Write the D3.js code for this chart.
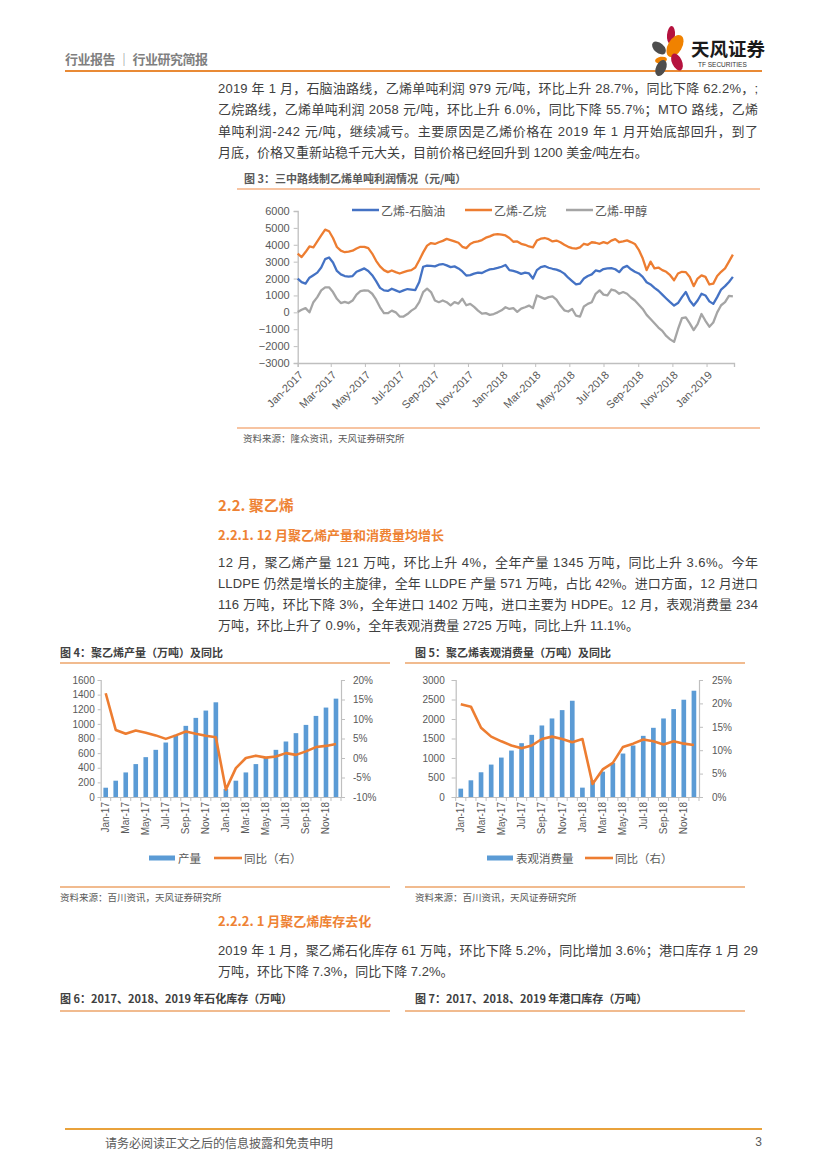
<!DOCTYPE html>
<html><head><meta charset="utf-8">
<script src="https://cdn.jsdelivr.net/npm/d3@7"></script>
<style>body{margin:0;background:#fff}svg{display:block}</style>
</head><body>
<svg id="page" width="827" height="1169"></svg>
<script>
// ---------------- DATA ----------------
// Figure 3: weekly samples from 2017-01-01 (元/吨)
const fig3Start = "2017-01-01";
const naphtha = [1990,1790,1700,2050,2200,2350,2650,3150,3250,2950,2450,2250,2150,2120,2150,2400,2500,2600,2450,2200,1850,1450,1300,1270,1400,1300,1200,1300,1380,1350,1320,1800,2700,2770,2750,2720,2820,2860,
 2780,2680,2720,2600,2420,2180,2200,2290,2350,2330,2450,2540,2580,2630,2700,2800,2500,2450,2380,2280,2350,2300,2000,2500,2680,2740,2640,2580,2530,2440,2290,2050,1850,1650,1700,2000,2150,2250,
 2480,2420,2560,2600,2620,2550,2380,2650,2750,2550,2400,2300,2100,1780,1650,1450,1280,1050,820,600,400,550,900,1200,700,400,700,1100,1000,650,500,900,1350,1550,1800,2100];
const ethane = [3470,3270,3570,3900,3850,4200,4550,4900,4800,4400,3870,3650,3560,3600,3650,3780,3880,3880,3800,3480,3050,2720,2500,2380,2480,2380,2300,2380,2450,2500,2650,3080,3550,3950,4100,4050,4150,4230,
 4350,4280,4200,4120,3880,3800,4050,4160,4200,4280,4420,4500,4600,4630,4600,4550,4400,4180,4200,4060,4000,3900,3850,4250,4360,4400,4330,4200,4250,4150,4000,3880,3800,3770,3850,4060,4000,4150,
 4120,4060,4160,4080,4250,4330,4150,4200,4260,4160,4050,3700,3200,2500,3000,2600,2650,2500,2400,2200,1900,2300,2400,2380,2090,1550,2000,2190,2100,1650,1700,2150,2400,2600,3000,3420];
const methanol = [20,150,250,0,600,900,1300,1480,1480,1200,800,550,620,550,700,1050,1250,1300,1280,1100,750,300,-50,-50,100,0,-250,-250,-100,100,250,600,1200,1400,1200,700,600,700,
 600,410,600,520,800,420,500,320,100,-80,-50,-150,-100,0,120,300,200,250,30,220,300,400,250,1000,900,800,900,950,750,400,120,50,200,-200,-250,350,500,600,
 1100,1300,1050,1000,1350,1280,1100,1200,1100,880,700,450,200,-150,-400,-650,-900,-1100,-1400,-1600,-1750,-1000,-350,-300,-650,-1050,-700,-100,-500,-850,-600,0,420,600,980,950];
const fig3Series = ["乙烯-石脑油","乙烯-乙烷","乙烯-甲醇"];
const fig3YTicks = [-3000,-2000,-1000,0,1000,2000,3000,4000,5000,6000];
const fig3XTicks = ["Jan-2017","Mar-2017","May-2017","Jul-2017","Sep-2017","Nov-2017","Jan-2018","Mar-2018","May-2018","Jul-2018","Sep-2018","Nov-2018","Jan-2019"];

// Figure 4 / 5 categories
const months = ["Jan-17","Feb-17","Mar-17","Apr-17","May-17","Jun-17","Jul-17","Aug-17","Sep-17","Oct-17","Nov-17","Dec-17",
                "Jan-18","Feb-18","Mar-18","Apr-18","May-18","Jun-18","Jul-18","Aug-18","Sep-18","Oct-18","Nov-18","Dec-18"];
// Figure 4: 聚乙烯产量 (万吨, cumulative) and 同比
const output4 = [127,223,336,450,545,645,745,850,973,1082,1182,1295,110,223,336,450,545,645,759,873,986,1109,1223,1345];
const yoy4 = [0.166,0.072,0.062,0.0705,0.065,0.058,0.049,0.058,0.068,0.062,0.057,0.053,-0.081,-0.026,0.0,0.006,0.001,0.004,0.0125,0.008,0.017,0.028,0.031,0.036];
const fig4LeftTicks = [0,200,400,600,800,1000,1200,1400,1600];
const fig4RightTicks = [-0.10,-0.05,0,0.05,0.10,0.15,0.20];
// Figure 5: 表观消费量 (万吨, cumulative) and 同比
const consumption5 = [214,428,634,831,1011,1191,1380,1594,1834,2014,2228,2468,240,430,650,870,1114,1320,1568,1774,2014,2254,2494,2725];
const yoy5 = [0.198,0.193,0.148,0.129,0.119,0.110,0.104,0.110,0.124,0.129,0.124,0.117,0.124,0.028,0.059,0.073,0.107,0.114,0.123,0.119,0.112,0.119,0.114,0.111];
const fig5LeftTicks = [0,500,1000,1500,2000,2500,3000];
const fig5RightTicks = [0,0.05,0.10,0.15,0.20,0.25];

// ---------------- STYLE ----------------
const svg = d3.select("#page");
const F = "'Liberation Sans','Noto Sans CJK SC',sans-serif";
const CJK = "'Noto Sans CJK SC','Liberation Sans',sans-serif";
const TXT = "#404040", AX = "#595959", GRIDC = "#BFBFBF";
const ORANGE = "#EE8233", BLUE = "#4472C4", LORANGE = "#ED7D31", GRAY = "#A5A5A5", BAR = "#5B9BD5";
const pct = d3.formatLocale({decimal:".",thousands:",",grouping:[3],currency:["",""],minus:"-"}).format(".0%");

function txt(x,y,s,opt={}){
  const t = svg.append("text").attr("x",x).attr("y",y).text(s)
    .attr("font-family",opt.family||F).attr("font-size",opt.size||13)
    .attr("fill",opt.fill||TXT).attr("font-weight",opt.weight||"normal")
    .attr("dominant-baseline","central");
  if(opt.anchor) t.attr("text-anchor",opt.anchor);
  if(opt.len){ t.attr("textLength",opt.len).attr("lengthAdjust","spacing"); }
  return t;
}
function hline(x1,x2,y,c,w){ svg.append("line").attr("x1",x1).attr("x2",x2).attr("y1",y).attr("y2",y).attr("stroke",c).attr("stroke-width",w); }
function para(lines,x,y0,lh,width){
  lines.forEach((s,i)=>txt(x,y0+i*lh,s,{size:13,len: i<lines.length-1?width:null}));
}

// ---------------- HEADER ----------------
txt(65,58,"行业报告 │ 行业研究简报",{size:13,weight:"bold",fill:"#7F7F7F",family:CJK,len:143});
hline(65,762,71,"#E98A35",2.2);
// logo
const logo = svg.append("g");
[[671,35,4,9,5,"#B5123E"],[675,46,7,12,30,"#F08200"],[659,48,5,8,-50,"#4D4D4D"],[661,60,6,3.2,-10,"#F08200"],
 [677,62,5,9,-25,"#B5123E"],[661,68,5,8.5,25,"#4D4D4D"]].forEach(p=>{
  logo.append("ellipse").attr("cx",p[0]).attr("cy",p[1]).attr("rx",p[2]).attr("ry",p[3])
    .attr("transform",`rotate(${p[4]},${p[0]},${p[1]})`).attr("fill",p[5]);
});
txt(691,48,"天风证券",{size:18.5,weight:"bold",fill:"#1a1a1a",family:CJK});
txt(698,64,"TF SECURITIES",{size:6.5,fill:"#333",family:"'Liberation Sans Narrow','Liberation Sans',sans-serif"});

// ---------------- PARAGRAPH 1 ----------------
para(["2019 年 1 月，石脑油路线，乙烯单吨利润 979 元/吨，环比上升 28.7%，同比下降 62.2%，;",
      "乙烷路线，乙烯单吨利润 2058 元/吨，环比上升 6.0%，同比下降 55.7%；MTO 路线，乙烯",
      "单吨利润-242 元/吨，继续减亏。主要原因是乙烯价格在 2019 年 1 月开始底部回升，到了",
      "月底，价格又重新站稳千元大关，目前价格已经回升到 1200 美金/吨左右。"],218,88,21.5,540);

// ---------------- FIGURE 3 ----------------
txt(244,178,"图 3：三中路线制乙烯单吨利润情况（元/吨）",{size:11,weight:"bold",fill:"#595959",family:CJK});
hline(237,760,189,"#F4B183",1.5);
hline(237,760,428,"#F4B183",1.5);
txt(243,438,"资料来源：隆众资讯，天风证券研究所",{size:9.5,fill:AX,family:CJK});
{
  const parseMY = d3.timeParse("%b-%Y");
  const start = d3.timeParse("%Y-%m-%d")(fig3Start);
  const dates = naphtha.map((_,i)=>d3.timeDay.offset(start,7*i));
  const x = d3.scaleTime().domain([start,new Date(2019,1,19)]).range([297.7,734]);
  const y = d3.scaleLinear().domain([-3000,6000]).range([363,211]);
  const g = svg.append("g");
  const ya = g.append("g").attr("transform","translate(297.7,0)")
    .call(d3.axisLeft(y).tickValues(fig3YTicks).tickSize(4).tickPadding(4).tickFormat(d3.format("d")));
  const xa = g.append("g").attr("transform","translate(0,363)")
    .call(d3.axisBottom(x).tickValues(fig3XTicks.map(parseMY)).tickSize(4).tickFormat(d3.timeFormat("%b-%Y")));
  xa.selectAll("text").attr("x",0).attr("y",0).attr("dy","0.35em").attr("text-anchor","end")
    .attr("transform","translate(3,10) rotate(-45)");
  [ya,xa].forEach(a=>{
    a.select(".domain").attr("stroke",GRIDC).attr("stroke-width",1.3);
    a.selectAll(".tick line").attr("stroke",GRIDC);
    a.selectAll("text").attr("fill",AX).attr("font-size",11).attr("font-family",F);
  });
  const line = d3.line().x((d,i)=>x(dates[i])).y(d=>y(d));
  [[methanol,GRAY],[ethane,LORANGE],[naphtha,BLUE]].forEach(([s,c])=>{
    g.append("path").datum(s).attr("d",line).attr("fill","none").attr("stroke",c).attr("stroke-width",2.3).attr("stroke-linejoin","round");
  });
  const leg = [[352,BLUE],[465,LORANGE],[566,GRAY]];
  leg.forEach((l,i)=>{
    g.append("line").attr("x1",l[0]).attr("x2",l[0]+27).attr("y1",210).attr("y2",210).attr("stroke",l[1]).attr("stroke-width",2.5);
    txt(l[0]+29,210,fig3Series[i],{size:12,fill:AX,family:CJK});
  });
}

// ---------------- SECTION 2.2 ----------------
txt(218,504,"2.2. 聚乙烯",{size:15,weight:"bold",fill:ORANGE,family:CJK});
txt(218,534,"2.2.1. 12 月聚乙烯产量和消费量均增长",{size:13,weight:"bold",fill:ORANGE,family:CJK});
para(["12 月，聚乙烯产量 121 万吨，环比上升 4%，全年产量 1345 万吨，同比上升 3.6%。今年",
      "LLDPE 仍然是增长的主旋律，全年 LLDPE 产量 571 万吨，占比 42%。进口方面，12 月进口",
      "116 万吨，环比下降 3%，全年进口 1402 万吨，进口主要为 HDPE。12 月，表观消费量 234",
      "万吨，环比上升了 0.9%，全年表观消费量 2725 万吨，同比上升 11.1%。"],218,562,21,540);

// ---------------- BAR+LINE CHARTS ----------------
function comboChart(o){
  const g = svg.append("g");
  txt(o.titleX,652,o.title,{size:11,weight:"bold",fill:"#404040",family:CJK});
  hline(o.lineX1,o.lineX2,663,"#EDA56A",1.3);
  hline(o.lineX1,o.lineX2,887,"#EDA56A",1.3);
  txt(o.titleX,897,"资料来源：百川资讯，天风证券研究所",{size:9.5,fill:AX,family:CJK});
  const x = d3.scaleBand().domain(months).range([o.x0,o.x1]).padding(0);
  const step = x.step();
  const yl = d3.scaleLinear().domain(o.lDomain).range([797,680]);
  const yr = d3.scaleLinear().domain(o.rDomain).range([797,680]);
  g.selectAll("rect").data(o.bars).join("rect")
    .attr("x",(d,i)=>x(months[i])+step*0.27).attr("width",step*0.46)
    .attr("y",d=>yl(d)).attr("height",d=>797-yl(d)).attr("fill",BAR);
  const la = g.append("g").attr("transform",`translate(${o.x0},0)`)
    .call(d3.axisLeft(yl).tickValues(o.lTicks).tickSize(o.lTick).tickPadding(o.lPad).tickFormat(d3.format("d")));
  const ra = g.append("g").attr("transform",`translate(${o.x1},0)`)
    .call(d3.axisRight(yr).tickValues(o.rTicks).tickSize(4).tickPadding(o.rPad).tickFormat(pct));
  const xa = g.append("g").attr("transform","translate(0,797)")
    .call(d3.axisBottom(x).tickValues(months.filter((m,i)=>i%2===0)).tickSize(0));
  xa.selectAll("text").attr("x",0).attr("y",0).attr("dy","0.35em").attr("text-anchor","end")
    .attr("transform","translate(0,5) rotate(-90)");
  g.selectAll("line.ct").data(d3.range(0,months.length+1,1)).join("line").attr("class","ct")
    .attr("x1",i=>o.x0+i*step).attr("x2",i=>o.x0+i*step).attr("y1",797).attr("y2",801).attr("stroke",GRIDC);
  [la,ra,xa].forEach(a=>{
    a.select(".domain").attr("stroke",GRIDC).attr("stroke-width",1.2);
    a.selectAll(".tick line").attr("stroke",GRIDC);
    a.selectAll("text").attr("fill",AX).attr("font-size",10).attr("font-family",F);
  });
  const line = d3.line().x((d,i)=>x(months[i])+step/2).y(d=>yr(d));
  g.append("path").datum(o.line).attr("d",line).attr("fill","none").attr("stroke",LORANGE).attr("stroke-width",2.6).attr("stroke-linejoin","round");
  g.append("rect").attr("x",o.legX).attr("y",855.5).attr("width",26).attr("height",5).attr("fill",BAR);
  txt(o.legX+29,858,o.barName,{size:11.5,fill:AX,family:CJK});
  g.append("line").attr("x1",o.legX2).attr("x2",o.legX2+28).attr("y1",858).attr("y2",858).attr("stroke",LORANGE).attr("stroke-width",2.6);
  txt(o.legX2+30,858,"同比（右）",{size:11.5,fill:AX,family:CJK});
}
comboChart({title:"图 4：聚乙烯产量（万吨）及同比",titleX:60,lineX1:60,lineX2:390,x0:100.7,x1:341,
  lDomain:[0,1600],rDomain:[-0.10,0.20],lTicks:fig4LeftTicks,rTicks:fig4RightTicks,lTick:3,lPad:3,rPad:8,
  bars:output4,line:yoy4,legX:149,legX2:214,barName:"产量"});
comboChart({title:"图 5：聚乙烯表观消费量（万吨）及同比",titleX:415,lineX1:405,lineX2:745,x0:455.7,x1:699,
  lDomain:[0,3000],rDomain:[0,0.25],lTicks:fig5LeftTicks,rTicks:fig5RightTicks,lTick:4,lPad:7,rPad:9,
  bars:consumption5,line:yoy5,legX:487,legX2:585,barName:"表观消费量"});

// ---------------- SECTION 2.2.2 ----------------
txt(218,920,"2.2.2. 1 月聚乙烯库存去化",{size:13,weight:"bold",fill:ORANGE,family:CJK});
para(["2019 年 1 月，聚乙烯石化库存 61 万吨，环比下降 5.2%，同比增加 3.6%；港口库存 1 月 29",
      "万吨，环比下降 7.3%，同比下降 7.2%。"],218,950,21.5,540);
txt(60,998,"图 6：2017、2018、2019 年石化库存（万吨）",{size:11,weight:"bold",fill:"#404040",family:CJK});
txt(415,998,"图 7：2017、2018、2019 年港口库存（万吨）",{size:11,weight:"bold",fill:"#404040",family:CJK});
hline(60,390,1011,"#EDA56A",1.3);
hline(405,745,1011,"#EDA56A",1.3);

// ---------------- FOOTER ----------------
hline(65,762,1129,"#E9A23B",2);
txt(105,1142,"请务必阅读正文之后的信息披露和免责申明",{size:12,fill:"#595959",family:CJK});
txt(762,1142,"3",{size:12,fill:"#595959",anchor:"end"});
</script>
</body></html>
